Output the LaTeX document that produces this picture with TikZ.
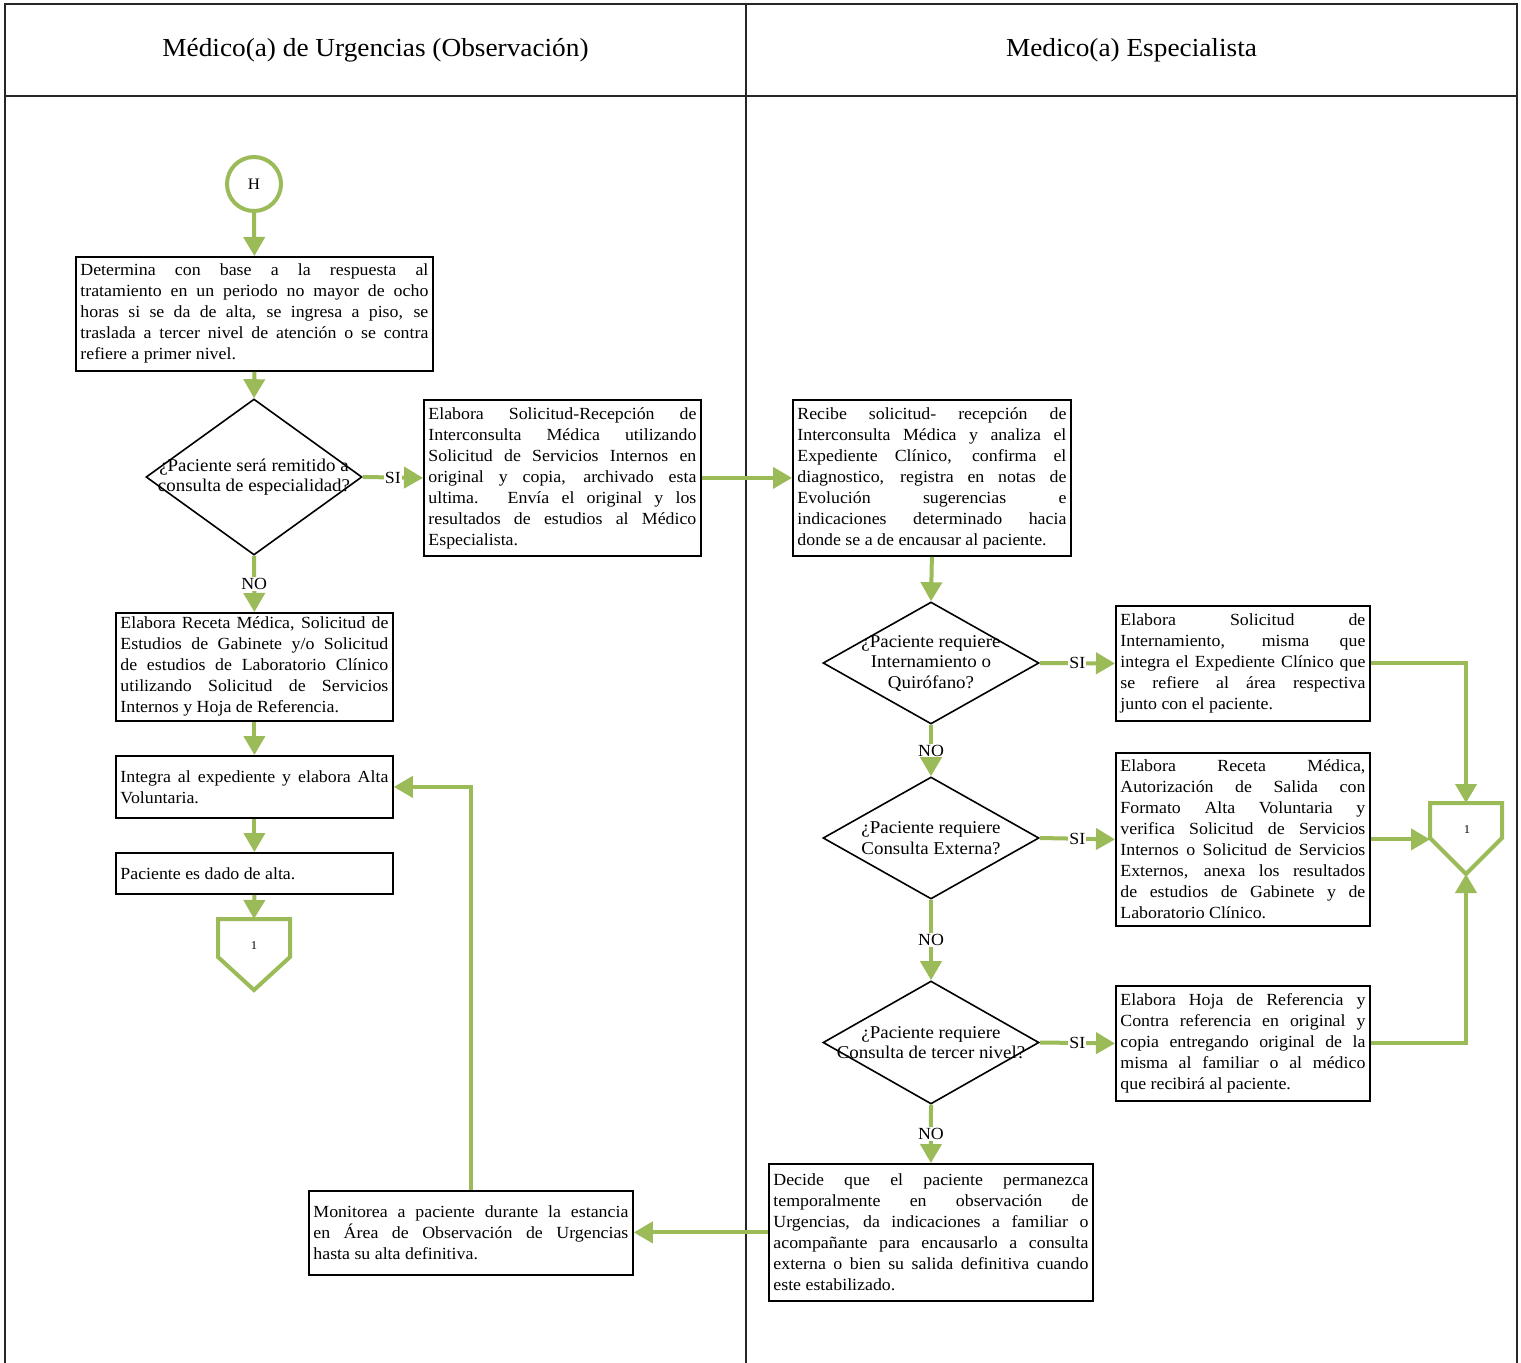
\documentclass[tikz,border=0pt]{standalone}
\usepackage{fontspec}
\setmainfont{Liberation Serif}[FakeStretch=1.05]
\usetikzlibrary{arrows.meta,shapes.geometric}
\definecolor{flowgreen}{HTML}{9BBB59}
\tolerance=10000 \hbadness=10000 \hyphenpenalty=10000 \exhyphenpenalty=10000
\begin{document}
\begin{tikzpicture}[x=1pt,y=-1pt,
 box/.style={draw=black, line width=1.8pt, align=justify, inner xsep=4.5pt, inner ysep=2pt, anchor=north west, font=\fontsize{17}{21}\selectfont},
 dec/.style={draw=black, line width=1.6pt, shape=diamond, inner sep=0pt, minimum width=216pt},
 dtext/.style={align=center, font=\fontsize{18}{20.5}\selectfont, inner sep=0pt},
 flow/.style={draw=flowgreen, line width=4pt, -{Triangle[width=21pt,length=19pt]}},
 lab/.style={fill=white, inner sep=1pt, font=\fontsize{17}{18}\selectfont},
 conn/.style={draw=flowgreen, line width=4pt, fill=white, line join=miter},
 head/.style={font=\fontsize{26}{30}\selectfont},
 ]
\useasboundingbox (0,0) rectangle (1521,1363);
% frame
\draw[line width=1.5pt, black!85] (5,1363) -- (5,4) -- (1517,4) -- (1517,1363);
\draw[line width=1.5pt, black!85] (746,4) -- (746,1363);
\draw[line width=1.5pt, black!85] (5,96) -- (1517,96);
\node[head] (h1) at (375.5,50) {Médico(a) de Urgencias (Observación)};
\node[head] (h2) at (1131.5,50) {Medico(a) Especialista};

% left lane
\node[draw=flowgreen, line width=4pt, circle, minimum size=54pt, inner sep=0pt, font=\fontsize{16}{18}\selectfont] (H) at (254,184) {H};
\node[box, text width=348pt, minimum height=114pt] (b1) at (75,256) {Determina con base a la respuesta al\linebreak tratamiento en un periodo no mayor de ocho\linebreak horas si se da de alta, se ingresa a piso, se\linebreak traslada a tercer nivel de atención o se contra\linebreak refiere a primer nivel.};
\node[dec, minimum height=156pt] (d1) at (254,477) {};
\node[dtext] (t1) at (254,477) {¿Paciente será remitido a\\consulta de especialidad?};
\node[box, text width=268pt, minimum height=156pt] (b2) at (423,399) {Elabora Solicitud-Recepción de\linebreak Interconsulta Médica utilizando\linebreak Solicitud de Servicios Internos en\linebreak original y copia, archivado esta\linebreak ultima. Envía el original y los\linebreak resultados de estudios al Médico\linebreak Especialista.};
\node[box, text width=268pt, minimum height=108pt] (b4) at (115,612) {Elabora Receta Médica, Solicitud de\linebreak Estudios de Gabinete y/o Solicitud\linebreak de estudios de Laboratorio Clínico\linebreak utilizando Solicitud de Servicios\linebreak Internos y Hoja de Referencia.};
\node[box, text width=268pt, minimum height=62pt] (b5) at (115,755) {Integra al expediente y elabora Alta\linebreak Voluntaria.};
\node[box, text width=268pt, minimum height=41pt] (b6) at (115,852) {Paciente es dado de alta.};
\draw[conn] (218,919) -- (290,919) -- (290,957) -- (254,990) -- (218,957) -- cycle;
\coordinate (c1top) at (254,919);
\node[font=\fontsize{12}{14}\selectfont] (n1) at (254,946) {1};
\node[box, text width=315pt, minimum height=84pt] (b7) at (308,1190) {Monitorea a paciente durante la estancia\linebreak en Área de Observación de Urgencias\linebreak hasta su alta definitiva.};

% right lane
\node[box, text width=269pt, minimum height=156pt] (b3) at (792,399) {Recibe solicitud- recepción de\linebreak Interconsulta Médica y analiza el\linebreak Expediente Clínico, confirma el\linebreak diagnostico, registra en notas de\linebreak Evolución sugerencias e\linebreak indicaciones determinado hacia\linebreak donde se a de encausar al paciente.};
\node[dec, minimum height=122pt] (d2) at (931,663) {};
\node[dtext] (t2) at (931,663) {¿Paciente requiere\\Internamiento o\\Quirófano?};
\node[dec, minimum height=122pt] (d3) at (931,838) {};
\node[dtext] (t3) at (931,838) {¿Paciente requiere\\Consulta Externa?};
\node[dec, minimum height=123pt] (d4) at (931,1042.5) {};
\node[dtext] (t4) at (931,1042.5) {¿Paciente requiere\\Consulta de tercer nivel?};
\node[box, text width=245pt, minimum height=115pt] (b8) at (1115,605) {Elabora Solicitud de\linebreak Internamiento, misma que\linebreak integra el Expediente Clínico que\linebreak se refiere al área respectiva\linebreak junto con el paciente.};
\node[box, text width=245pt, minimum height=173pt] (b9) at (1115,752) {Elabora Receta Médica,\linebreak Autorización de Salida con\linebreak Formato Alta Voluntaria y\linebreak verifica Solicitud de Servicios\linebreak Internos o Solicitud de Servicios\linebreak Externos, anexa los resultados\linebreak de estudios de Gabinete y de\linebreak Laboratorio Clínico.};
\node[box, text width=245pt, minimum height=115pt] (b10) at (1115,985) {Elabora Hoja de Referencia y\linebreak Contra referencia en original y\linebreak copia entregando original de la\linebreak misma al familiar o al médico\linebreak que recibirá al paciente.};
\node[box, text width=315pt, minimum height=137pt] (b11) at (768,1163) {Decide que el paciente permanezca\linebreak temporalmente en observación de\linebreak Urgencias, da indicaciones a familiar o\linebreak acompañante para encausarlo a consulta\linebreak externa o bien su salida definitiva cuando\linebreak este estabilizado.};
\draw[conn] (1430,803) -- (1502,803) -- (1502,838) -- (1466,874) -- (1430,838) -- cycle;
\coordinate (c2top) at (1466,803);
\coordinate (c2tip) at (1466,874);
\coordinate (c2left) at (1430,838);
\node[font=\fontsize{12}{14}\selectfont] (n2) at (1467,830) {1};

% connectors
\draw[flow] (H.south) -- (b1.north);
\draw[flow] (b1.south) -- (d1.north);
\draw[flow] (d1.east) -- node[lab] (si1) {SI} (b2.west);
\draw[flow] (b2.east) -- (b3.west);
\draw[flow] (d1.south) -- node[lab] (no1) {NO} (b4.north);
\draw[flow] (b4.south) -- (b5.north);
\draw[flow] (b5.south) -- (b6.north);
\draw[flow] (b6.south) -- (c1top);
\draw[flow] (b3.south) -- (d2.north);
\draw[flow] (d2.east) -- node[lab] (si2) {SI} (b8.west);
\draw[flow] (d2.south) -- node[lab] (no2) {NO} (d3.north);
\draw[flow] (d3.east) -- node[lab] (si3) {SI} (b9.west);
\draw[flow] (d3.south) -- node[lab] (no3) {NO} (d4.north);
\draw[flow] (d4.east) -- node[lab] (si4) {SI} (b10.west);
\draw[flow] (d4.south) -- node[lab] (no4) {NO} (b11.north);
\draw[flow] (b8.east) -| (c2top);
\draw[flow] (b9.east) -- (b9.east -| c2left);
\draw[flow] (b10.east) -| (c2tip);
\draw[flow] (b11.west) -- (b11.west -| b7.east);
\draw[flow] (b7.north) |- (b5.east);
\end{tikzpicture}
\end{document}
